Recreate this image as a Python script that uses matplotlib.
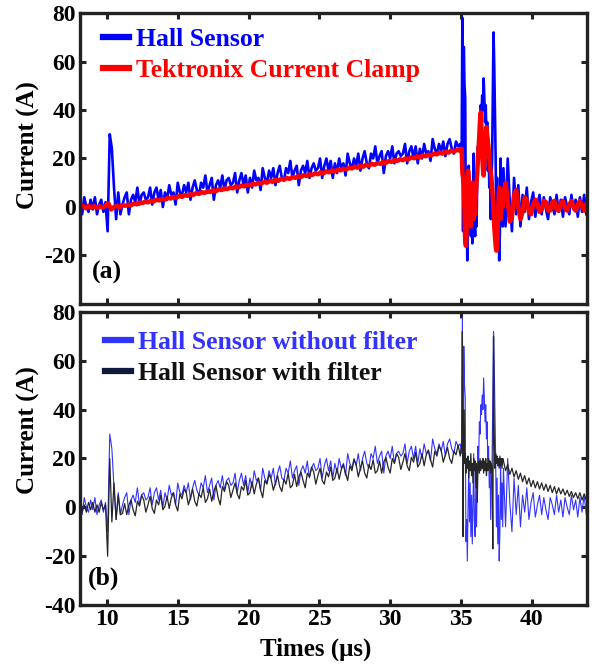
import numpy as np
import matplotlib
matplotlib.use("Agg")
import matplotlib.pyplot as plt

# ---------------- data ----------------
# sample times (µs)
t_ramp = np.linspace(8.1, 34.95, 180)        # Hall sensor records, 0.15 µs
t_clamp_ramp = np.linspace(8.1, 34.9, 135)   # current clamp, 0.2 µs
t_burst = np.linspace(35.0, 37.95, 60)       # 0.05 µs
t_tail = np.linspace(38.0, 43.85, 40)        # 0.15 µs

hall_ramp = [
    2, -3, 4, 0, -2, 3, -1, 4, -3, 1,
    3, -2, 2, -10, 30, 24, 8, -5, 6, -3,
    1, 4, 6, -3, 3, 5, 2, 8, 1, 5,
    6, 3, 4, 8, 1, 6, 8, 3, 7, 0,
    6, 3, 9, 5, 6, 1, 10, 6, 5, 9,
    6, 10, 3, 8, 11, 7, 5, 10, 8, 13,
    6, 9, 12, 3, 9, 11, 8, 13, 7, 11,
    12, 9, 10, 14, 6, 11, 14, 9, 13, 6,
    12, 8, 15, 11, 12, 7, 16, 12, 10, 15,
    12, 16, 9, 14, 17, 12, 11, 16, 14, 19,
    12, 15, 17, 9, 15, 17, 14, 19, 12, 16,
    18, 15, 16, 20, 12, 17, 20, 15, 19, 12,
    18, 14, 20, 16, 18, 13, 22, 18, 16, 20,
    17, 22, 15, 20, 23, 18, 16, 22, 20, 25,
    18, 21, 23, 14, 21, 23, 20, 25, 18, 22,
    23, 21, 22, 26, 18, 23, 25, 20, 25, 18,
    24, 20, 26, 22, 23, 19, 28, 24, 22, 26,
    23, 27, 21, 26, 28, 24, 22, 27, 25, 26]
hall_burst = [
    24, 22, 78, -10, 66, 50, 45, -14, -5, -22,
    0, 17, -6, 10, -12, 5, -15, 0, 22, -5,
    -12, 8, -8, 12, 25, 18, 35, 30, 42, 38,
    46, 40, 53, 45, 35, 42, 28, 35, 15, 25,
    8, 18, -5, 10, 20, 45, 72, 58, 40, 20,
    -8, 12, -15, 5, -22, -10, 20, -5, 10, -8]
hall_tail = [
    16, -8, 20, 2, -10, 12, -3, 9, -8, 5,
    -2, 8, -5, 2, 6, -4, 1, 5, -3, 4,
    -1, -5, 4, 1, -3, 5, -2, 3, -4, 4,
    0, -3, 5, -1, 3, -4, 4, -2, 5, -3]

clamp_ramp = [
    0, 0.5, -0.5, 0.5, -0.3, 0.4, -0.5, 0.3, -0.2, 0.5,
    1.5, -1, 0, 0.5, -0.1, 0.7, 0.5, 1.0, 0.7, 1.4,
    1.1, 1.8, 1.6, 2.2, 1.9, 2.6, 2.3, 3.0, 2.7, 3.3,
    3.0, 3.8, 3.5, 4.2, 3.8, 4.6, 4.2, 4.9, 4.6, 5.3,
    5.0, 5.7, 5.4, 6.1, 5.8, 6.5, 6.2, 6.9, 6.5, 7.3,
    7.0, 7.6, 7.4, 8.0, 7.7, 8.5, 8.1, 8.8, 8.5, 9.2,
    8.9, 9.6, 9.3, 10.0, 9.7, 10.4, 10.0, 10.8, 10.4, 11.2,
    10.8, 11.6, 11.2, 12.0, 11.6, 12.3, 12.0, 12.7, 12.4, 13.1,
    12.8, 13.5, 13.2, 13.9, 13.5, 14.3, 13.9, 14.7, 14.3, 15.1,
    14.7, 15.4, 15.1, 15.8, 15.5, 16.2, 15.9, 16.6, 16.2, 17.0,
    16.6, 17.4, 17.0, 17.8, 17.4, 18.1, 17.8, 18.5, 18.2, 18.9,
    18.6, 19.3, 19.0, 19.7, 19.3, 20.1, 19.7, 20.5, 20.1, 20.9,
    20.5, 21.2, 20.9, 21.6, 21.3, 22.0, 21.7, 22.4, 22.0, 22.8,
    22.4, 23.2, 22.8, 23.6, 23.3]
clamp_burst = [
    24, 24, 14, 12, 8, -2, -14, -16, -10, 6,
    15, 12, 2, -6, -8, 0, 10, 2, -5, 0,
    -3, 5, 10, 14, 20, 25, 30, 36, 39, 32,
    22, 16, 13, 18, 24, 30, 33, 30, 27, 24,
    20, 16, 15, 12, 8, 4, -2, -8, -12, -16,
    -18, -17, -8, 2, 8, 3, -5, -2, 6, 0]
clamp_tail = [
    6, 10, 3, -6, -4, 5, 7, 0, -5, -2,
    4, 3, -2, -3, 1, 3, 1, -2, -1, 2.5,
    2, -1.5, -1.5, 2, 2.5, -1, -1.5, 1.5, 2.5, -0.5,
    -1.5, 1, 2.5, 0, -1.5, 1, 2.5, 0.5, -1.5, 1]

filt_ramp = [
    2, -2, 1, -2, 2, -1, 2, -2, 1, -2,
    2, -1, 1, -20, 20, -6, 10, -5, 5, -3,
    -2.5, 1.5, -3, 1, 3, -1, -3.5, 2.5, 0.5, 5,
    3, -2, 1, 4.5, -0.5, -2.5, 3, 1, 5, -1,
    0.5, 4.5, -0.5, 4, 6, 1, -1.5, 5.5, 3.5, 7.5,
    6, 1, 4, 7.5, 2.5, 0.5, 5.5, 4, 8, 2,
    3.5, 7.5, 2.5, 6.5, 9, 4, 1, 8.5, 6.5, 10.5,
    9, 4, 7, 10, 5.5, 3.5, 8.5, 7, 11, 5,
    6, 10.5, 5.5, 9.5, 12, 7, 4, 11, 9.5, 13.5,
    11.5, 7, 10, 13, 8.5, 6.5, 11.5, 9.5, 14, 8,
    9, 13.5, 8.5, 12.5, 14.5, 11, 8, 14, 12.5, 16.5,
    14.5, 9.5, 13, 16, 11, 9.5, 14.5, 12.5, 16.5, 11,
    12, 16, 11.5, 15.5, 17.5, 14, 11, 17, 15, 19.5,
    17.5, 12.5, 16, 19, 14, 12, 17.5, 15.5, 19.5, 14,
    15, 19, 14, 18.5, 20.5, 16.5, 14, 20, 18, 22,
    20.5, 15.5, 18.5, 22, 17, 15, 20.5, 18.5, 22.5, 16.5,
    18, 22, 17, 21.5, 23.5, 19.5, 16.5, 23, 21, 25,
    23.5, 18.5, 21.5, 24.5, 20, 18, 23, 21.5, 25.5, 21]
filt_burst = [
    24, 24, 72, -12, 40, 18, 22, 14, 20, 16,
    21, 12, 19, 15, 22, 13, 18, 10, 20, 15,
    19, 8, 18, 2, 16, 19, 14, 20, 15, 19,
    16, 20, 14, 19, 15, 20, 13, 18, 15, 20,
    16, 19, 14, 18, 15, -17, 70, 30, 16, 22,
    18, 21, 17, 20, 16, 21, 17, 20, 16, 20]
filt_tail = [
    19, 15, 17.5, 13.5, 16, 12.5, 15, 11.5, 14, 10.5,
    13, 9.5, 12, 8.5, 11, 8, 10.5, 7.5, 10, 7,
    9.5, 6.5, 9, 6, 8.5, 5.5, 8, 5.5, 7.5, 5,
    7, 4.5, 6.5, 4, 6, 3.5, 6, 3, 5.5, 3]

x_ticks = [10, 15, 20, 25, 30, 35, 40]
y_ticks_top = [-20, 0, 20, 40, 60, 80]
y_ticks_bottom = [-40, -20, 0, 20, 40, 60, 80]

t_hall = np.concatenate([t_ramp, t_burst, t_tail])
t_clamp = np.concatenate([t_clamp_ramp, t_burst, t_tail])
hall = np.concatenate([hall_ramp, hall_burst, hall_tail])
clamp = np.concatenate([clamp_ramp, clamp_burst, clamp_tail])
filt = np.concatenate([filt_ramp, filt_burst, filt_tail])

# ---------------- style ----------------
plt.rcParams['font.family'] = ['Liberation Serif', 'DejaVu Serif']
plt.rcParams['font.weight'] = 'bold'
plt.rcParams['axes.labelweight'] = 'bold'
plt.rcParams['axes.unicode_minus'] = False

fig = plt.figure(figsize=(5.98, 6.64), dpi=100)
ax1 = fig.add_axes([0.1338, 0.5422, 0.8478, 0.4382])
ax2 = fig.add_axes([0.1338, 0.0889, 0.8478, 0.4412])

for ax in (ax1, ax2):
    ax.set_xlim(8.1, 43.9)
    ax.set_ylim(-40, 80)
    ax.set_xticks(x_ticks)
    for s in ax.spines.values():
        s.set_linewidth(2.4)
        s.set_color('#222222')
    ax.tick_params(direction='in', length=4.5, width=2.2, top=True, right=True,
                   labelsize=17, color='#222222', pad=3)

# top panel
ax1.plot(t_hall, hall, color='#0000ff', lw=1.9, label='Hall Sensor')
ax1.plot(t_clamp, clamp, color='#ff0000', lw=3.2, label='Tektronix Current Clamp')
ax1.set_yticks(y_ticks_top)
ax1.tick_params(labelbottom=False)
ax1.set_ylabel('Current (A)', fontsize=18)
ax1.yaxis.set_label_coords(-0.079, 0.546)
leg1 = ax1.legend(loc='upper left', bbox_to_anchor=(0.045, 0.948), frameon=False,
                  handlelength=1.0, handletextpad=0.3, labelspacing=0.3,
                  borderpad=0, borderaxespad=0, labelcolor='linecolor',
                  prop={'size': 18.5, 'weight': 'bold'})
for h in leg1.get_lines():
    h.set_linewidth(4.5)
ax1.text(0.024, 0.107, '(a)', transform=ax1.transAxes, fontsize=18.5,
         fontweight='bold', va='center', ha='left')

# bottom panel
ax2.plot(t_hall, hall, color='#3333ff', lw=0.8, label='Hall Sensor without filter')
ax2.plot(t_hall, filt, color='#262626', lw=0.9, label='Hall Sensor with filter')
ax2.set_yticks(y_ticks_bottom)
ax2.set_ylabel('Current (A)', fontsize=18)
ax2.yaxis.set_label_coords(-0.079, 0.597)
ax2.set_xlabel('Times (μs)', fontsize=18)
ax2.xaxis.set_label_coords(0.465, -0.11)
leg2 = ax2.legend(loc='upper left', bbox_to_anchor=(0.049, 0.935), frameon=False,
                  handlelength=1.0, handletextpad=0.3, labelspacing=0.3,
                  borderpad=0, borderaxespad=0,
                  prop={'size': 18.5, 'weight': 'bold'})
for h, c in zip(leg2.get_lines(), ['#3333ff', '#0d1a3a']):
    h.set_linewidth(4.5)
    h.set_color(c)
leg2.get_texts()[0].set_color('#3333ff')
leg2.get_texts()[1].set_color('#111111')
ax2.text(0.016, 0.092, '(b)', transform=ax2.transAxes, fontsize=18.5,
         fontweight='bold', va='center', ha='left')

fig.savefig('out.png', dpi=100)
